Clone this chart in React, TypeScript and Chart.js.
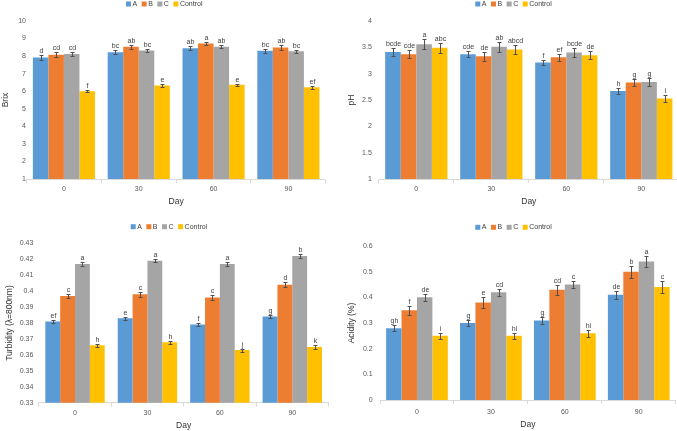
import React, { useEffect, useRef } from "react";
import { Chart, registerables } from "chart.js";
Chart.register(...registerables);

const days = ["0", "30", "60", "90"];
const seriesNames = ["A", "B", "C", "Control"];
const seriesColors = ["#5B9BD5", "#ED7D31", "#A5A5A5", "#FFC000"];

// Brix
const brixA = [7.92, 8.22, 8.45, 8.3];
const brixB = [8.08, 8.54, 8.72, 8.49];
const brixC = [8.12, 8.32, 8.53, 8.27];
const brixCtrl = [6.0, 6.32, 6.37, 6.22];
const brixErrA = [0.13, 0.1, 0.12, 0.13];
const brixErrB = [0.13, 0.12, 0.1, 0.12];
const brixErrC = [0.1, 0.08, 0.08, 0.09];
const brixErrCtrl = [0.07, 0.08, 0.06, 0.07];
const brixLetA = ["d", "bc", "ab", "bc"];
const brixLetB = ["cd", "ab", "a", "ab"];
const brixLetC = ["cd", "bc", "ab", "bc"];
const brixLetCtrl = ["f", "e", "e", "ef"];

// pH
const phA = [3.41, 3.37, 3.21, 2.67];
const phB = [3.37, 3.33, 3.31, 2.83];
const phC = [3.56, 3.51, 3.4, 2.84];
const phCtrl = [3.49, 3.46, 3.35, 2.53];
const phErrA = [0.07, 0.06, 0.05, 0.05];
const phErrB = [0.08, 0.08, 0.07, 0.06];
const phErrC = [0.1, 0.09, 0.08, 0.07];
const phErrCtrl = [0.09, 0.09, 0.08, 0.06];
const phLetA = ["bcde", "cde", "f", "h"];
const phLetB = ["cde", "de", "ef", "g"];
const phLetC = ["a", "ab", "bcde", "g"];
const phLetCtrl = ["abc", "abcd", "de", "i"];

// Turbidity
const turA = [0.381, 0.383, 0.379, 0.384];
const turB = [0.397, 0.398, 0.396, 0.404];
const turC = [0.417, 0.419, 0.417, 0.422];
const turCtrl = [0.366, 0.368, 0.363, 0.365];
const turErrA = [0.001, 0.001, 0.001, 0.001];
const turErrB = [0.0015, 0.0015, 0.0015, 0.0015];
const turErrC = [0.001, 0.001, 0.001, 0.001];
const turErrCtrl = [0.001, 0.001, 0.001, 0.001];
const turLetA = ["ef", "e", "f", "g"];
const turLetB = ["c", "c", "c", "d"];
const turLetC = ["a", "a", "a", "b"];
const turLetCtrl = ["h", "h", "j", "k"];

// Acidity
const acA = [0.28, 0.3, 0.31, 0.41];
const acB = [0.35, 0.38, 0.43, 0.5];
const acC = [0.4, 0.42, 0.45, 0.54];
const acCtrl = [0.25, 0.25, 0.26, 0.44];
const acErrA = [0.013, 0.013, 0.013, 0.015];
const acErrB = [0.018, 0.02, 0.02, 0.023];
const acErrC = [0.014, 0.014, 0.015, 0.02];
const acErrCtrl = [0.012, 0.012, 0.013, 0.025];
const acLetA = ["gh", "g", "g", "de"];
const acLetB = ["f", "e", "cd", "b"];
const acLetC = ["de", "cd", "c", "a"];
const acLetCtrl = ["i", "hi", "hi", "c"];

const FONT = "'Liberation Sans', Arial, sans-serif";

const errorPlugin = {
  id: "errLetters",
  afterDatasetsDraw(chart: any) {
    const ctx = chart.ctx;
    const y = chart.scales.y;
    chart.data.datasets.forEach((ds: any, i: number) => {
      const meta = chart.getDatasetMeta(i);
      meta.data.forEach((bar: any, j: number) => {
        const v = ds.data[j];
        const e = ds.errors[j];
        const yt = Math.round(y.getPixelForValue(v + e)) + 0.5;
        const yb = Math.round(y.getPixelForValue(v - e)) + 0.5;
        const x = Math.round(bar.x) + 0.5;
        ctx.save();
        ctx.strokeStyle = "#505050";
        ctx.lineWidth = 1;
        ctx.beginPath();
        ctx.moveTo(x, yt);
        ctx.lineTo(x, yb);
        ctx.moveTo(x - 2, yt);
        ctx.lineTo(x + 2, yt);
        ctx.moveTo(x - 2, yb);
        ctx.lineTo(x + 2, yb);
        ctx.stroke();
        ctx.fillStyle = "#404040";
        ctx.font = "7px " + FONT;
        ctx.textAlign = "center";
        ctx.textBaseline = "bottom";
        ctx.fillText(ds.letters[j], x, yt - 1);
        ctx.restore();
      });
    });
  },
};

const legendPlugin = {
  id: "myLegend",
  afterDraw(chart: any) {
    const o = chart.options.plugins.myLegend;
    if (!o) return;
    const ctx = chart.ctx;
    ctx.save();
    ctx.font = "7px " + FONT;
    ctx.textBaseline = "middle";
    ctx.textAlign = "left";
    let x = o.x;
    chart.data.datasets.forEach((ds: any) => {
      ctx.fillStyle = ds.backgroundColor;
      ctx.fillRect(x, o.y - 2.5, 5, 5);
      x += 6.5;
      ctx.fillStyle = "#404040";
      ctx.fillText(ds.label, x, o.y);
      x += ctx.measureText(ds.label).width + 4.5;
    });
    ctx.restore();
  },
};

type Panel = {
  left: number; top: number; w: number; h: number;
  area: { l: number; r: number; t: number; b: number };
  min: number; max: number; step: number;
  yTitle: string; yTitlePad: number; yTickPad: number;
  xTickPad: number; xTitlePad: number;
  cat: number;
  legend: { x: number; y: number };
  values: number[][]; errors: number[][]; letters: string[][];
};

const panels: Panel[] = [
  {
    left: 0, top: 0, w: 338, h: 213,
    area: { l: 26.5, r: 325.8, t: 21, b: 179 },
    min: 1, max: 10, step: 1,
    yTitle: "Brix", yTitlePad: 0.6, yTickPad: 0.5,
    xTickPad: 2, xTitlePad: 6,
    cat: 0.83,
    legend: { x: 126, y: 4 },
    values: [brixA, brixB, brixC, brixCtrl],
    errors: [brixErrA, brixErrB, brixErrC, brixErrCtrl],
    letters: [brixLetA, brixLetB, brixLetC, brixLetCtrl],
  },
  {
    left: 338, top: 0, w: 345, h: 213,
    area: { l: 40.8, r: 340.8, t: 21, b: 179 },
    min: 1, max: 4, step: 0.5,
    yTitle: "pH", yTitlePad: 8.9, yTickPad: 7,
    xTickPad: 2, xTitlePad: 6,
    cat: 0.83,
    legend: { x: 137.3, y: 4 },
    values: [phA, phB, phC, phCtrl],
    errors: [phErrA, phErrB, phErrC, phErrCtrl],
    letters: [phLetA, phLetB, phLetC, phLetCtrl],
  },
  {
    left: 0, top: 215, w: 338, h: 216,
    area: { l: 38.8, r: 328.5, t: 28.3, b: 187.7 },
    min: 0.33, max: 0.43, step: 0.01,
    yTitle: "Turbidity (λ=800nm)", yTitlePad: 4.9, yTickPad: 5.5,
    xTickPad: 2.3, xTitlePad: 0.2,
    cat: 0.82,
    legend: { x: 130.7, y: 11.7 },
    values: [turA, turB, turC, turCtrl],
    errors: [turErrA, turErrB, turErrC, turErrCtrl],
    letters: [turLetA, turLetB, turLetC, turLetCtrl],
  },
  {
    left: 338, top: 215, w: 345, h: 216,
    area: { l: 42, r: 337.7, t: 31, b: 185 },
    min: 0, max: 0.6, step: 0.1,
    yTitle: "Acidity (%)", yTitlePad: 8.9, yTickPad: 7.3,
    xTickPad: 3.7, xTitlePad: 1.6,
    cat: 0.835,
    legend: { x: 137.3, y: 12.3 },
    values: [acA, acB, acC, acCtrl],
    errors: [acErrA, acErrB, acErrC, acErrCtrl],
    letters: [acLetA, acLetB, acLetC, acLetCtrl],
  },
];

function PanelChart({ p }: { p: Panel }) {
  const ref = useRef<HTMLCanvasElement>(null);
  useEffect(() => {
    const canvas = ref.current!;
    const chart = new Chart(canvas, {
      type: "bar",
      data: {
        labels: days,
        datasets: seriesNames.map((name, i) => ({
          label: name,
          data: p.values[i],
          errors: p.errors[i],
          letters: p.letters[i],
          backgroundColor: seriesColors[i],
          borderWidth: 0,
          barPercentage: 1,
          categoryPercentage: p.cat,
        })) as any,
      },
      options: {
        responsive: false,
        animation: false,
        events: [],
        layout: { padding: { left: 0, top: p.area.t, right: p.w - p.area.r, bottom: 0 } },
        plugins: {
          legend: { display: false },
          tooltip: { enabled: false },
          myLegend: p.legend,
        } as any,
        scales: {
          x: {
            afterFit: (s: any) => { s.height = p.h - p.area.b; },
            grid: { display: true, drawOnChartArea: false, drawTicks: true, tickLength: 4, color: "#D9D9D9", offset: true },
            border: { display: true, color: "#D9D9D9" },
            ticks: { color: "#595959", font: { size: 7, family: FONT }, padding: p.xTickPad },
            title: { display: true, text: "Day", color: "#333333", font: { size: 8.5, family: FONT }, padding: { top: 0, bottom: p.xTitlePad } },
          },
          y: {
            min: p.min, max: p.max,
            afterFit: (s: any) => { s.width = p.area.l; },
            grid: { display: false, drawTicks: false },
            border: { display: false },
            ticks: {
              stepSize: p.step,
              color: "#595959",
              font: { size: 7, family: FONT },
              padding: p.yTickPad,
              callback: (v: any) => String(Math.round(Number(v) * 1000) / 1000),
            },
            title: { display: true, text: p.yTitle, color: "#333333", font: { size: 8.5, family: FONT }, padding: { top: p.yTitlePad, bottom: 0 } },
          },
        },
      },
      plugins: [errorPlugin, legendPlugin],
    });
    return () => chart.destroy();
  }, [p]);
  return (
    <canvas
      ref={ref}
      width={p.w}
      height={p.h}
      style={{ position: "absolute", left: p.left, top: p.top, width: p.w, height: p.h }}
    />
  );
}

export default function App() {
  return (
    <div style={{ position: "fixed", left: 0, top: 0, width: 677, height: 431, overflow: "hidden", background: "#fff" }}>
      {panels.map((p, i) => (
        <PanelChart key={i} p={p} />
      ))}
    </div>
  );
}
